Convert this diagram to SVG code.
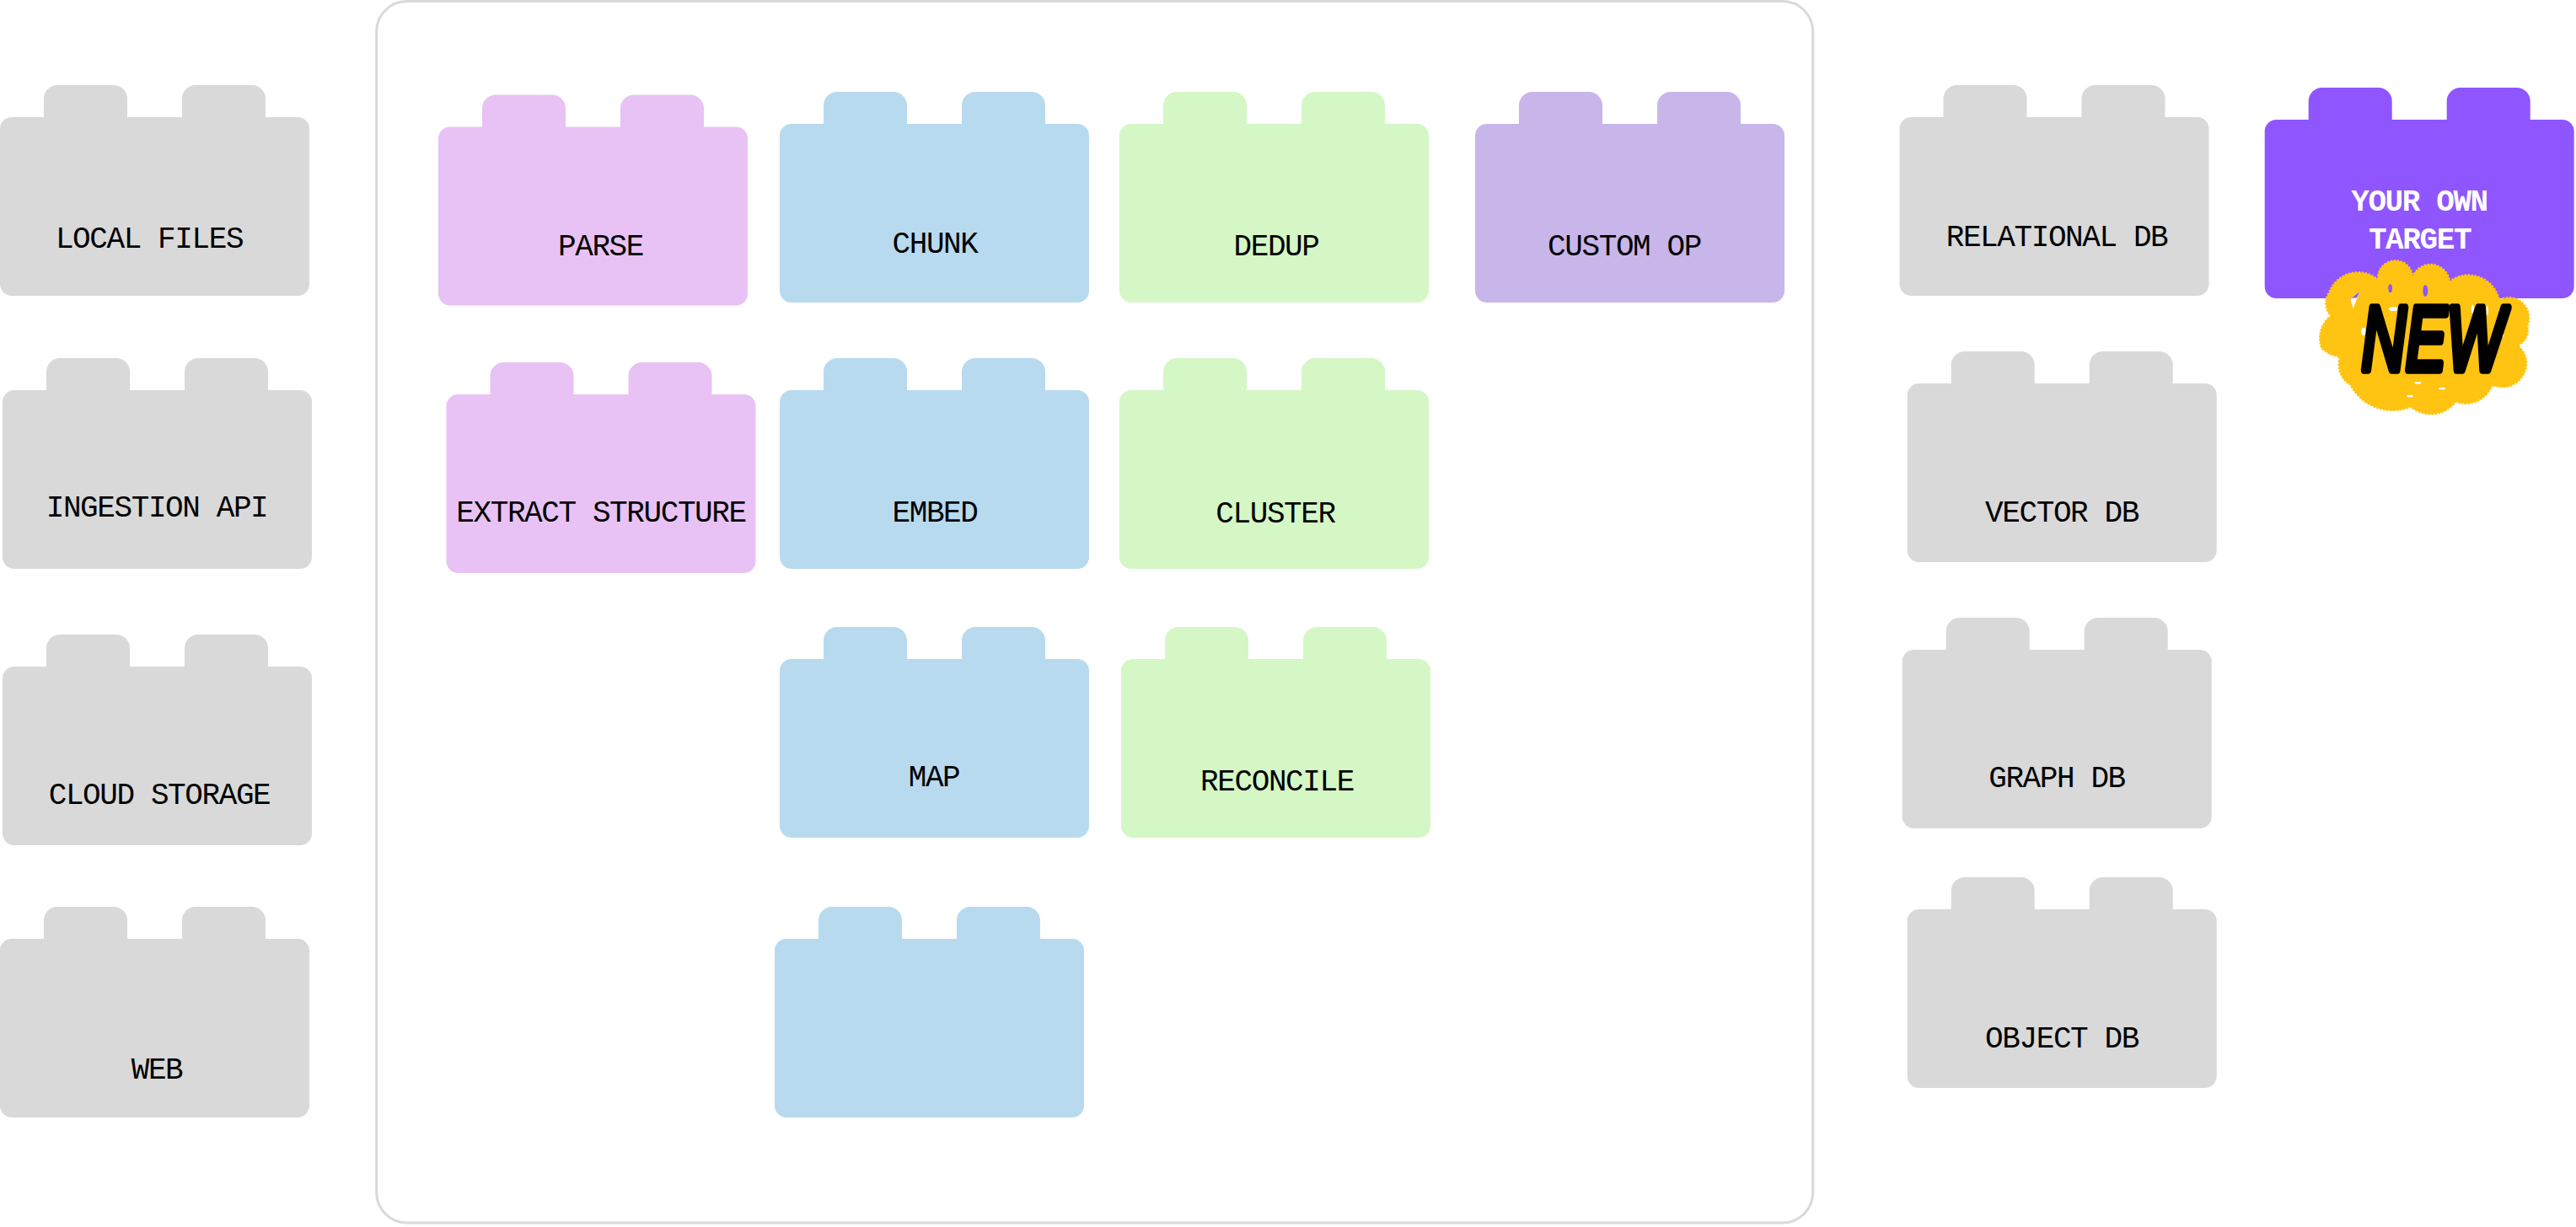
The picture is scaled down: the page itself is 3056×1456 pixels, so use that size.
<svg xmlns="http://www.w3.org/2000/svg" xmlns:xlink="http://www.w3.org/1999/xlink" width="3056" height="1456" viewBox="0 0 3056 1456">
<style>
.grey{fill:#D9D9D9}.pink{fill:#E8C2F4}.blue{fill:#B8DAEF}.green{fill:#D4F7C5}.lav{fill:#C8B6EA}.violet{fill:#8F55FF}
text.l{font-family:"Liberation Mono",monospace;font-size:36px;letter-spacing:-1.4px;fill:#000;text-anchor:middle}
text.w{fill:#fff;font-weight:700}
</style>
<defs>
<path id="brick" d="M14 38H52V16A16 16 0 0 1 68 0H135A16 16 0 0 1 151 16V38H216V16A16 16 0 0 1 232 0H299A16 16 0 0 1 315 16V38H353A14 14 0 0 1 367 52V236A14 14 0 0 1 353 250H14A14 14 0 0 1 0 236V52A14 14 0 0 1 14 38Z"/>
</defs>
<rect width="3056" height="1456" fill="#fff"/>
<rect id="container" x="446.7" y="1.5" width="1704" height="1449.5" rx="36" fill="#fff" stroke="#D9D9D9" stroke-width="3"/>
<g id="connectors"></g>
<g id="local-files"><use href="#brick" x="0" y="101" class="grey"/><text class="l" x="177" y="294">LOCAL FILES</text></g>
<g id="ingestion-api"><use href="#brick" x="3" y="425" class="grey"/><text class="l" x="186" y="613">INGESTION API</text></g>
<g id="cloud-storage"><use href="#brick" x="3" y="753" class="grey"/><text class="l" x="189" y="953.5">CLOUD STORAGE</text></g>
<g id="web"><use href="#brick" x="0" y="1076" class="grey"/><text class="l" x="186" y="1280">WEB</text></g>
<g id="parse"><use href="#brick" x="520" y="112.5" class="pink"/><text class="l" x="712.5" y="302.5">PARSE</text></g>
<g id="extract-structure"><use href="#brick" x="529.5" y="430" class="pink"/><text class="l" x="713" y="618.5">EXTRACT STRUCTURE</text></g>
<g id="chunk"><use href="#brick" x="925" y="109" class="blue"/><text class="l" x="1109" y="299.5">CHUNK</text></g>
<g id="embed"><use href="#brick" x="925" y="425" class="blue"/><text class="l" x="1109" y="618.5">EMBED</text></g>
<g id="map"><use href="#brick" x="925" y="744" class="blue"/><text class="l" x="1108" y="932.5">MAP</text></g>
<g id="blank-block"><use href="#brick" x="919" y="1076" class="blue"/></g>
<g id="dedup"><use href="#brick" x="1328" y="109" class="green"/><text class="l" x="1514" y="302.5">DEDUP</text></g>
<g id="cluster"><use href="#brick" x="1328" y="425" class="green"/><text class="l" x="1513" y="619.5">CLUSTER</text></g>
<g id="reconcile"><use href="#brick" x="1330" y="744" class="green"/><text class="l" x="1515" y="937.5">RECONCILE</text></g>
<g id="custom-op"><use href="#brick" x="1750" y="109" class="lav"/><text class="l" x="1927" y="302.5">CUSTOM OP</text></g>
<g id="relational-db"><use href="#brick" x="2253.5" y="101" class="grey"/><text class="l" x="2440" y="292">RELATIONAL DB</text></g>
<g id="vector-db"><use href="#brick" x="2262.7" y="417" class="grey"/><text class="l" x="2446" y="619">VECTOR DB</text></g>
<g id="graph-db"><use href="#brick" x="2256.7" y="733" class="grey"/><text class="l" x="2440" y="933.5">GRAPH DB</text></g>
<g id="object-db"><use href="#brick" x="2262.7" y="1041" class="grey"/><text class="l" x="2446" y="1242.5">OBJECT DB</text></g>
<g id="your-own-target"><use href="#brick" x="2686.7" y="104" class="violet"/><text class="l w" x="2870" y="249.5">YOUR OWN</text><text class="l w" x="2870.5" y="294.5">TARGET</text></g>
<g id="new-badge">
<g transform="translate(2660 80) scale(0.3333)">
<path fill="#FFC311" stroke="#FFC311" stroke-width="7" stroke-dasharray="7 5" d="M483 755A62 62 0 0 1 607 745A68 68 0 0 1 738 762A112 112 0 0 1 915 828A72 72 0 0 1 1015 920A60 60 0 0 1 980 990A80 80 0 0 1 1003 1090A85 85 0 0 1 890 1130A100 100 0 0 1 760 1190A110 110 0 0 1 600 1208A170 170 0 0 1 385 1130A85 85 0 0 1 348 1030A110 110 0 0 1 283 1000A100 100 0 0 1 315 885A70 70 0 0 1 310 800A110 110 0 0 1 483 755Z"/>
<ellipse cx="527" cy="787" rx="7" ry="15" fill="#8F55FF"/>
<ellipse cx="652" cy="795" rx="9" ry="21" fill="#8F55FF"/>
<path d="M385 825L418 798L395 858Z" fill="#fff"/>
<path d="M385 825L418 798L408 820L385 822Z" fill="#8F55FF"/>
<g fill="#fff">
<ellipse cx="820" cy="860" rx="5" ry="15"/><ellipse cx="538" cy="860" rx="16" ry="7"/><ellipse cx="910" cy="955" rx="22" ry="7"/><ellipse cx="625" cy="1123" rx="12" ry="4"/><ellipse cx="712" cy="1143" rx="12" ry="4"/><ellipse cx="597" cy="1170" rx="12" ry="4"/><ellipse cx="432" cy="940" rx="8" ry="14"/><ellipse cx="872" cy="865" rx="4" ry="16"/>
</g>
<text transform="translate(425 1078) scale(0.68 1)" font-family="'Liberation Sans',sans-serif" font-style="italic" font-size="320" stroke="#000" stroke-width="28" stroke-linejoin="round" stroke-linecap="round" fill="#000">NEW</text>
</g>
</g>
</svg>
